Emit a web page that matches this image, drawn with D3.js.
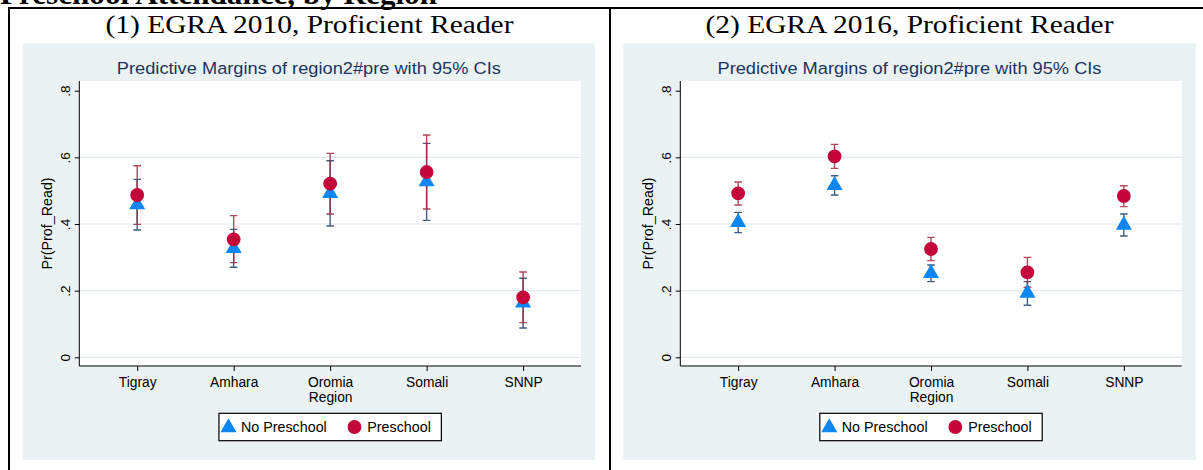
<!DOCTYPE html>
<html>
<head>
<meta charset="utf-8">
<script src="https://cdn.jsdelivr.net/npm/d3@7"></script>
<style>
  body { margin: 0; background: #fff; }
  svg { display: block; }
</style>
</head>
<body>
<svg id="chart" width="1203" height="470"></svg>
<script>
// Categories and tick values
const regions = ["Tigray", "Amhara", "Oromia\nRegion", "Somali", "SNNP"];
const yTicks = [0, 0.2, 0.4, 0.6, 0.8];
const seriesNames = ["No Preschool", "Preschool"];
const pageTitle = "Preschool Attendance, by Region";
const panelTitles = ["(1) EGRA 2010, Proficient Reader", "(2) EGRA 2016, Proficient Reader"];
const plotSubtitle = "Predictive Margins of region2#pre with 95% CIs";
const yTitle = "Pr(Prof_Read)";

// EGRA 2010 margins (point estimate, lower and upper 95% bounds)
const noPre2010   = [0.458, 0.327, 0.492, 0.527, 0.163];
const noPre2010Lo = [0.382, 0.270, 0.394, 0.411, 0.088];
const noPre2010Hi = [0.534, 0.384, 0.590, 0.642, 0.237];
const pre2010     = [0.487, 0.354, 0.521, 0.556, 0.180];
const pre2010Lo   = [0.399, 0.284, 0.430, 0.445, 0.104];
const pre2010Hi   = [0.575, 0.425, 0.612, 0.667, 0.256];

// EGRA 2016 margins
const noPre2016   = [0.405, 0.516, 0.252, 0.193, 0.397];
const noPre2016Lo = [0.374, 0.487, 0.227, 0.156, 0.364];
const noPre2016Hi = [0.435, 0.545, 0.277, 0.227, 0.430];
const pre2016     = [0.492, 0.603, 0.325, 0.255, 0.484];
const pre2016Lo   = [0.457, 0.567, 0.290, 0.210, 0.452];
const pre2016Hi   = [0.526, 0.639, 0.360, 0.300, 0.515];

const colors = {
  bg: "#eaf2f3",
  grid: "#e1eaed",
  subtitle: "#1c3461",
  tri: "#0d86f2",
  dot: "#c4053a",
  ciNo: "#2b4e76",
  ciPre: "#a3283e"
};

const serif = "'Liberation Serif', 'Times New Roman', serif";
const sans = "'Liberation Sans', Arial, Helvetica, sans-serif";

const svg = d3.select("#chart");

// Page title (runs off the top edge)
svg.append("text")
  .attr("x", 0).attr("y", 4)
  .attr("font-family", serif).attr("font-weight", "bold").attr("font-size", 30)
  .attr("textLength", 437).attr("lengthAdjust", "spacingAndGlyphs")
  .attr("fill", "#000")
  .text(pageTitle);

// Table rules
const rule = (x1, y1, x2, y2) => svg.append("line")
  .attr("x1", x1).attr("y1", y1).attr("x2", x2).attr("y2", y2)
  .attr("stroke", "#000").attr("stroke-width", 2);
rule(8, 8, 1203, 8);
rule(9, 8, 9, 470);
rule(610, 8, 610, 470);

const panels = [
  {
    title: panelTitles[0], cx: 309.5,
    bg: [22.7, 595], plot: [79.3, 581],
    noPre: noPre2010, noPreLo: noPre2010Lo, noPreHi: noPre2010Hi,
    pre: pre2010, preLo: pre2010Lo, preHi: pre2010Hi
  },
  {
    title: panelTitles[1], cx: 909.5,
    bg: [623.3, 1195.7], plot: [680.3, 1181.7],
    noPre: noPre2016, noPreLo: noPre2016Lo, noPreHi: noPre2016Hi,
    pre: pre2016, preLo: pre2016Lo, preHi: pre2016Hi
  }
];

const bgTop = 43.3, bgBottom = 460;
const plotTop = 81, plotBottom = 366;

const fmtY = v => v === 0 ? "0" : d3.format(".1f")(v).replace(/^0/, "");

panels.forEach(p => {
  const g = svg.append("g");

  // Panel heading
  g.append("text")
    .attr("x", p.cx - 204).attr("y", 32.5)
    .attr("font-family", serif).attr("font-size", 25.5)
    .attr("textLength", 408).attr("lengthAdjust", "spacingAndGlyphs")
    .attr("fill", "#000")
    .text(p.title);

  // Graph background
  g.append("rect")
    .attr("x", p.bg[0]).attr("y", bgTop)
    .attr("width", p.bg[1] - p.bg[0]).attr("height", bgBottom - bgTop)
    .attr("fill", colors.bg);

  g.append("text")
    .attr("x", (p.bg[0] + p.bg[1]) / 2 - 192).attr("y", 73.5)
    .attr("font-family", sans).attr("font-size", 16.3)
    .attr("textLength", 384).attr("lengthAdjust", "spacingAndGlyphs")
    .attr("fill", colors.subtitle)
    .text(plotSubtitle);

  // Plot region
  g.append("rect")
    .attr("x", p.plot[0]).attr("y", plotTop)
    .attr("width", p.plot[1] - p.plot[0]).attr("height", plotBottom - plotTop)
    .attr("fill", "#fff");

  const x = d3.scaleLinear().domain([0.4, 5.6]).range(p.plot);
  const y = d3.scaleLinear().domain([0, 0.8]).range([357.3, 90.7]);

  // Gridlines
  g.append("g").selectAll("line")
    .data(yTicks.filter(t => t < 0.8))
    .join("line")
    .attr("x1", p.plot[0]).attr("x2", p.plot[1])
    .attr("y1", d => y(d)).attr("y2", d => y(d))
    .attr("stroke", colors.grid).attr("stroke-width", 1.2);

  // Y axis
  const yAxis = g.append("g")
    .attr("transform", `translate(${p.plot[0]},0)`)
    .call(d3.axisLeft(y).tickValues(yTicks).tickSize(4.5).tickSizeOuter(0).tickFormat(fmtY));
  yAxis.select(".domain").attr("d", `M0,${plotTop}V${plotBottom}`).attr("stroke", "#000");
  yAxis.selectAll(".tick line").attr("stroke", "#000");
  yAxis.selectAll(".tick text")
    .attr("x", null).attr("dy", null)
    .attr("transform", "translate(-9.5,0) rotate(-90)")
    .attr("text-anchor", "middle")
    .attr("font-family", sans).attr("font-size", 13.5)
    .attr("fill", "#000");

  g.append("text")
    .attr("transform", `translate(${p.plot[0] - 27},${(plotTop + plotBottom) / 2}) rotate(-90)`)
    .attr("text-anchor", "middle")
    .attr("font-family", sans).attr("font-size", 14.3)
    .attr("fill", "#000")
    .text(yTitle);

  // X axis
  const xAxis = g.append("g")
    .attr("transform", `translate(0,${plotBottom})`)
    .call(d3.axisBottom(x).tickValues([1, 2, 3, 4, 5]).tickSize(5).tickSizeOuter(0)
      .tickFormat(i => regions[i - 1]));
  xAxis.select(".domain").attr("d", `M${p.plot[0]},0H${p.plot[1]}`).attr("stroke", "#000");
  xAxis.selectAll(".tick line").attr("stroke", "#000");
  xAxis.selectAll(".tick text").each(function(i) {
    const t = d3.select(this);
    const lines = regions[i - 1].split("\n");
    t.text(null).attr("y", 20.5).attr("dy", null)
      .attr("font-family", sans).attr("font-size", 13.8).attr("fill", "#000");
    lines.forEach((ln, k) => {
      t.append("tspan").attr("x", 0).attr("y", 20.5 + k * 15).text(ln);
    });
  });

  // Confidence intervals
  const idx = d3.range(regions.length);
  const cap = 3.8;
  const drawCI = (lo, hi, color, opacity) => {
    const ci = g.append("g").attr("stroke", color).attr("stroke-width", 1.4)
      .attr("stroke-opacity", opacity).attr("fill", "none");
    ci.selectAll("path").data(idx).join("path")
      .attr("d", i => {
        const cx = x(i + 1), y0 = y(lo[i]), y1 = y(hi[i]);
        return `M${cx - cap},${y1}H${cx + cap}M${cx},${y1}V${y0}M${cx - cap},${y0}H${cx + cap}`;
      });
  };
  drawCI(p.noPreLo, p.noPreHi, colors.ciNo, 0.9);
  drawCI(p.preLo, p.preHi, colors.ciPre, 0.85);

  // Point estimates
  const tri = d3.symbol().type(d3.symbolTriangle).size(112);
  const dot = d3.symbol().type(d3.symbolCircle).size(150);
  g.append("g").selectAll("path").data(idx).join("path")
    .attr("transform", i => `translate(${x(i + 1)},${y(p.noPre[i])})`)
    .attr("d", tri).attr("fill", colors.tri);
  g.append("g").selectAll("path").data(idx).join("path")
    .attr("transform", i => `translate(${x(i + 1)},${y(p.pre[i])})`)
    .attr("d", dot).attr("fill", colors.dot);

  // Legend, centred under the plot region
  const lg = g.append("g");
  const box = lg.append("rect")
    .attr("y", 413.3).attr("height", 27.4)
    .attr("fill", "#fff").attr("stroke", "#000").attr("stroke-width", 1.2);
  const t1 = lg.append("text")
    .attr("y", 432.3).attr("font-family", sans).attr("font-size", 14.3)
    .attr("fill", "#000").text(seriesNames[0]);
  const t2 = lg.append("text")
    .attr("y", 432.3).attr("font-family", sans).attr("font-size", 14.3)
    .attr("fill", "#000").text(seriesNames[1]);
  const w1 = t1.node().getComputedTextLength();
  const w2 = t2.node().getComputedTextLength();
  const total = 22 + w1 + 27.7 + 12.8 + w2 + 10.5;
  const x0 = (p.plot[0] + p.plot[1]) / 2 - total / 2;
  box.attr("x", x0).attr("width", total);
  t1.attr("x", x0 + 22);
  const dotX = x0 + 22 + w1 + 27.7;
  t2.attr("x", dotX + 12.8);
  lg.append("path").attr("transform", `translate(${x0 + 9.5},${427.5})`)
    .attr("d", d3.symbol().type(d3.symbolTriangle).size(112)).attr("fill", colors.tri);
  lg.append("path").attr("transform", `translate(${dotX},${427})`)
    .attr("d", d3.symbol().type(d3.symbolCircle).size(150)).attr("fill", colors.dot);
});
</script>
</body>
</html>
